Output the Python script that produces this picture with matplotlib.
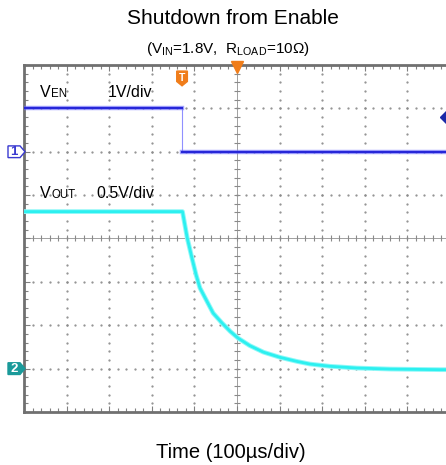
import numpy as np
import matplotlib
matplotlib.use('Agg')
import matplotlib.pyplot as plt
from matplotlib.patches import Polygon
import matplotlib.transforms as mtrans

plt.rcParams['font.family'] = ['Liberation Sans', 'DejaVu Sans']
plt.rcParams['mathtext.fontset'] = 'custom'
plt.rcParams['mathtext.rm'] = 'Liberation Sans'

# scope settings
t_div = 100.0      # us/div
en_scale = 1.0     # V/div
out_scale = 0.5    # V/div
en_ground = 6.0    # div from bottom
out_ground = 1.0

# V_EN trace (us, V)
en_t = [0, 371, 371, 1000]
en_v = [1.0, 1.0, 0.0, 0.0]

# V_OUT trace (us, V)
out_t = [0, 372, 383, 394, 404, 413, 429, 444, 464, 484, 503, 530, 562, 601,
         640, 671, 718, 781, 859, 976, 1000]
out_v = [1.81, 1.81, 1.51, 1.28, 1.08, 0.93, 0.78, 0.64, 0.53, 0.43, 0.35, 0.265,
         0.19, 0.13, 0.084, 0.053, 0.027, 0.007, -0.005, -0.012, -0.012]

trig_t = 371
trig_level = 0.8

W, H = 446, 465
fig = plt.figure(figsize=(W/100, H/100), dpi=100)
ax = fig.add_axes([24/W, 53/H, 426/W, 347/H])
ax.set_xlim(0, 10*t_div)
ax.set_ylim(0, 8)

grid_c = '#8c8c8c'
# dotted grid
for k in range(1, 10):
    if k == 5:
        continue
    yy = np.arange(0, 8.01, 0.2)
    ax.plot(np.full_like(yy, k*t_div), yy, ls='none', marker='.', ms=1.2, color=grid_c, zorder=1)
for k in range(1, 8):
    if k == 4:
        continue
    xx = np.arange(0, 1000.1, 20)
    ax.plot(xx, np.full_like(xx, k), ls='none', marker='.', ms=1.2, color=grid_c, zorder=1)
# center cross with ticks
ax.axvline(5*t_div, color='#a0a0a0', lw=0.7, zorder=1)
ax.axhline(4, color='#a0a0a0', lw=0.7, zorder=1)
xx = np.arange(0, 1000.1, 20)
ax.plot(xx, np.full_like(xx, 4), ls='none', marker='|', ms=4, mew=0.8, color='#8a8a8a', zorder=1)
yy = np.arange(0, 8.01, 0.2)
ax.plot(np.full_like(yy, 5*t_div), yy, ls='none', marker='_', ms=4, mew=0.8, color='#8a8a8a', zorder=1)

# border
for s in ['left', 'top', 'bottom']:
    ax.spines[s].set_color('#707070')
    ax.spines[s].set_linewidth(2)
ax.spines['right'].set_visible(False)
ax.set_xticks(np.arange(0, 1001, 100))
ax.set_xticks(np.arange(0, 1001, 20), minor=True)
ax.set_yticks(np.arange(0, 8.01, 1))
ax.set_yticks(np.arange(0, 8.01, 0.2), minor=True)
ax.tick_params(which='both', direction='in', top=True, bottom=True, left=True,
               labelbottom=False, labelleft=False, color='#808080', width=0.8)
ax.tick_params(which='major', length=4)
ax.tick_params(which='minor', length=3)

# traces
en_y = en_ground + np.array(en_v) / en_scale
out_y = out_ground + np.array(out_v) / out_scale
ax.plot(en_t[1:3], en_y[1:3], color='#9090ff', lw=0.8, zorder=3)
for seg in (slice(0, 2), slice(2, 4)):
    ax.plot(en_t[seg], en_y[seg], color='#7070ff', lw=3.2, alpha=0.6, zorder=3)
    ax.plot(en_t[seg], en_y[seg], color='#2626d8', lw=1.6, zorder=4)
ax.plot(out_t, out_y, color='#8ff8f8', lw=3.4, zorder=3, solid_capstyle='butt')
ax.plot(out_t, out_y, color='#2cf0f0', lw=2.0, zorder=4, solid_capstyle='butt')

# labels on screen
ax.text(37, 7.27, 'V', fontsize=11.5, va='baseline', ha='left')
ax.annotate('EN', xy=(37, 7.27), xytext=(8.2, 0), textcoords='offset points',
            fontsize=8.3, va='baseline', ha='left')
ax.text(197, 7.27, '1V/div', fontsize=11.5, va='baseline', ha='left')
ax.text(37, 4.94, 'V', fontsize=11.5, va='baseline', ha='left')
ax.annotate('OUT', xy=(37, 4.94), xytext=(8.2, 0), textcoords='offset points',
            fontsize=8.3, va='baseline', ha='left')
ax.text(171, 4.94, '0.5V/div', fontsize=11.5, va='baseline', ha='left')

# channel markers
bt = mtrans.blended_transform_factory(fig.transFigure, ax.transData)
def ch_marker(y0, label, face, edge, tcol):
    h = 0.135
    pts = [(8/W, y0+h), (20/W, y0+h), (25/W, y0), (20/W, y0-h), (8/W, y0-h)]
    fig.patches.append(Polygon(pts, closed=True, transform=bt, facecolor=face,
                               edgecolor=edge, lw=1.0))
    fig.text(14/W, y0, label, transform=bt, ha='center', va='center',
             fontsize=9.5, fontweight='bold', color=tcol)
ch_marker(en_ground, '1', 'white', '#3a3ad0', '#3a3ad0')
ch_marker(out_ground, '2', '#1a9a9a', '#1a9a9a', 'white')

# trigger markers
tw = 12.5
shield = [(trig_t-tw, 7.86), (trig_t+tw, 7.86), (trig_t+tw, 7.62), (trig_t, 7.52), (trig_t-tw, 7.62)]
ax.add_patch(Polygon(shield, closed=True, facecolor='#f07d1a', edgecolor='#f07d1a', zorder=6))
ax.text(trig_t, 7.71, 'T', ha='center', va='center', fontsize=7.5, fontweight='bold', color='white', zorder=7)
ax.plot([5*t_div], [7.95], marker='v', ms=8, color='#f07d1a', clip_on=False, zorder=6)
ax.plot([993], [en_ground + trig_level/en_scale], marker='D', ms=7.5, color='#1c2aa8',
        clip_on=False, zorder=6)

# titles
fig.text(233/W, 1 - 18/H, 'Shutdown from Enable', ha='center', va='center', fontsize=15)
fig.text(228/W, 1 - 49/H, r'(V$_{\rm IN}$=1.8V,  R$_{\rm LOAD}$=10Ω)', ha='center',
         va='center', fontsize=11)
fig.text(231/W, 1 - 452/H, 'Time (100µs/div)', ha='center', va='center', fontsize=14.5)

fig.savefig('out.png', dpi=100)
